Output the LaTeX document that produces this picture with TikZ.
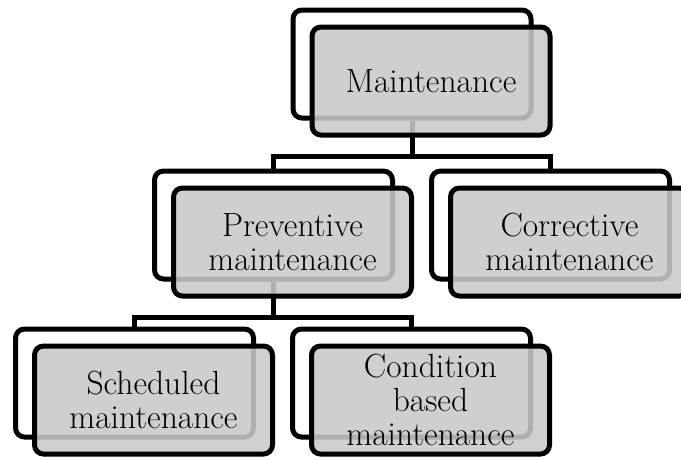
\documentclass[tikz,border=0pt]{standalone}
\usepackage{fontspec}
\usetikzlibrary{calc}
\definecolor{boxgray}{gray}{0.79}

\begin{document}
\begin{tikzpicture}[x=1pt, y=-1pt,
    back/.style={draw, line width=5pt, rounded corners=9pt, fill=white,
        minimum width=238pt, minimum height=108pt, inner sep=0pt},
    front/.style={back, fill=boxgray, fill opacity=0.875, text opacity=1,
        font=\fontsize{33.5}{34}\selectfont, align=center},
    link/.style={line width=5pt}]
    \useasboundingbox (0,0) rectangle (681,459);

    % white plates behind every box
    \node[back] (mback) at (412,64) {};
    \node[back] (prevback) at (273.5,225) {};
    \node[back] (corrback) at (550.5,225) {};
    \node[back] (schedback) at (134.5,383) {};
    \node[back] (condback) at (411.5,383) {};

    % tree connectors
    \draw[link] (mback.south) -- ++(0,36) -| (prevback.north);
    \draw[link] (mback.south) -- ++(0,36) -| (corrback.north);
    \draw[link] (prevback.south) -- ++(0,36) -| (schedback.north);
    \draw[link] (prevback.south) -- ++(0,36) -| (condback.north);

    % grey boxes with the labels
    \node[front] (maint) at ($(mback)+(19,17)$) {Maintenance};
    \node[front] (prev) at ($(prevback)+(19,17)$) {Preventive\\maintenance};
    \node[front] (corr) at ($(corrback)+(19,17)$) {Corrective\\maintenance};
    \node[front] (sched) at ($(schedback)+(19,17)$) {Scheduled\\maintenance};
    \node[front] (cond) at ($(condback)+(19,17)$) {Condition\\based\\maintenance};
\end{tikzpicture}
\end{document}
